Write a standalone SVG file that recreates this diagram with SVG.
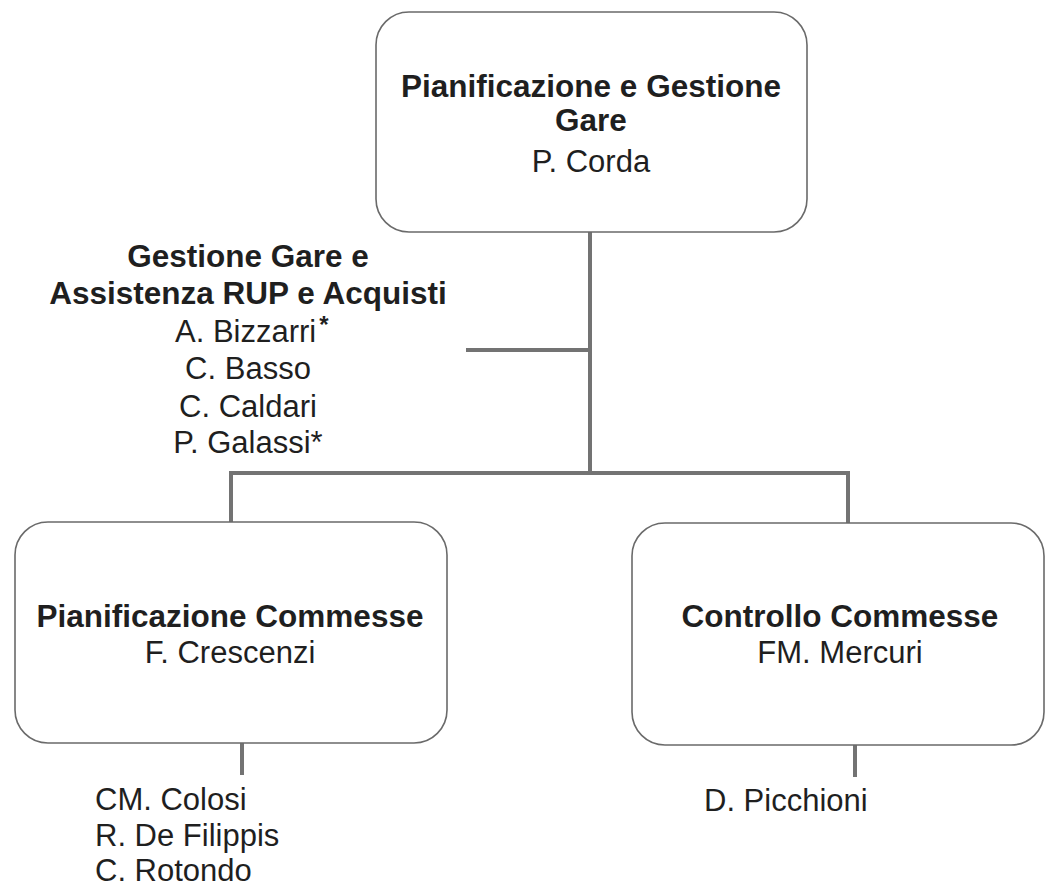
<svg xmlns="http://www.w3.org/2000/svg" width="1046" height="889" viewBox="0 0 1046 889">
<style>
.box{fill:#ffffff;stroke:#6a6a6a;stroke-width:1.6}
.conn{fill:none;stroke:#737373;stroke-width:4}
text{font-family:"Liberation Sans",Arial,sans-serif;fill:#1f1f1f;font-size:31px;text-anchor:middle}
.b{font-weight:bold;font-size:31.5px}
.l{text-anchor:start}
</style>
<rect width="1046" height="889" fill="#ffffff"/>
<g id="connectors">
<path class="conn" d="M590 232 V472"/>
<path class="conn" d="M466 350 H590"/>
<path class="conn" d="M231 522 V473 H848 V523"/>
<path class="conn" d="M242 743 V775"/>
<path class="conn" d="M855 745 V777"/>
</g>
<g id="node-top">
<rect class="box" x="376" y="12" width="431" height="220" rx="33" ry="33"/>
<text class="b" x="591" y="97">Pianificazione e Gestione</text>
<text class="b" x="591" y="131">Gare</text>
<text x="591" y="172">P. Corda</text>
</g>
<g id="node-gestione">
<text class="b" x="248" y="267">Gestione Gare e</text>
<text class="b" x="248" y="304">Assistenza RUP e Acquisti</text>
<text class="l" x="175" y="342">A. Bizzarri<tspan dx="3" dy="-9" font-weight="bold" font-size="24">*</tspan></text>
<text x="248" y="379">C. Basso</text>
<text x="248" y="417">C. Caldari</text>
<text x="248" y="453">P. Galassi*</text>
</g>
<g id="node-pianificazione">
<rect class="box" x="15" y="522" width="432" height="221" rx="33" ry="33"/>
<text class="b" x="230" y="627">Pianificazione Commesse</text>
<text x="230" y="663">F. Crescenzi</text>
</g>
<g id="node-controllo">
<rect class="box" x="632" y="523" width="412" height="222" rx="33" ry="33"/>
<text class="b" x="840" y="627">Controllo Commesse</text>
<text x="840" y="663">FM. Mercuri</text>
</g>
<g id="node-pianificazione-staff">
<text class="l" x="95" y="810">CM. Colosi</text>
<text class="l" x="95" y="846">R. De Filippis</text>
<text class="l" x="95" y="881">C. Rotondo</text>
</g>
<g id="node-controllo-staff">
<text class="l" x="704" y="811">D. Picchioni</text>
</g>
</svg>
